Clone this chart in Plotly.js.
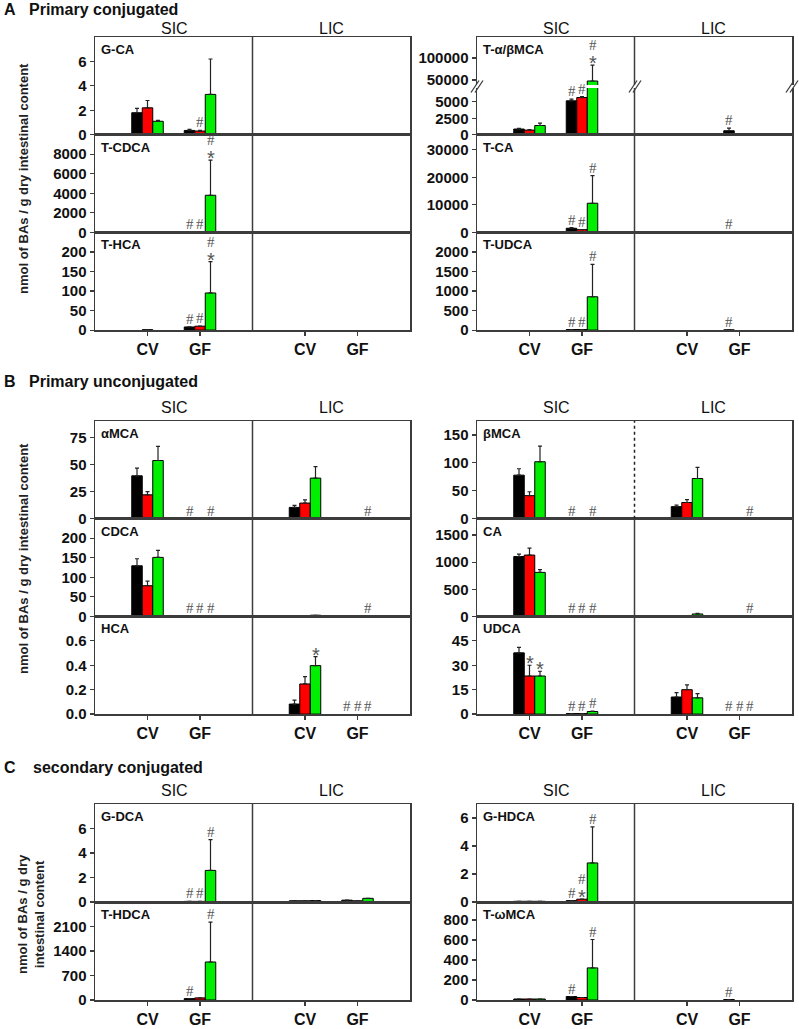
<!DOCTYPE html>
<html><head><meta charset="utf-8">
<script src="https://cdn.plot.ly/plotly-3.0.1.min.js"></script>
<style>html,body{margin:0;padding:0;background:#fff}</style>
</head><body><div id="chart" style="width:799px;height:1029px"></div>
<script>
// ---------------- DATA ----------------
// positions: [SIC CV, SIC GF, LIC CV, LIC GF]; series rows: [black, red, green]
const positions = ["SIC CV", "SIC GF", "LIC CV", "LIC GF"];
const xTickLabels = ["CV", "GF", "CV", "GF"];
const seriesNames = ["Group 1", "Group 2", "Group 3"];

// A - Primary conjugated
const GCA_mean = [[1.8, 0.35, null, null], [2.2, 0.3, null, null], [1.1, 3.3, null, null]];
const GCA_err  = [[0.35, 0.08, 0, 0], [0.6, 0.05, 0, 0], [0.08, 2.9, 0, 0]];
const GCA_sig  = [["", "", "", ""], ["", "#", "", ""], ["", "", "", ""]];
const GCA_ticks = ["0", "2", "4", "6"];

const TCDCA_mean = [[null, 50, null, null], [null, 50, null, null], [null, 3800, null, null]];
const TCDCA_err  = [[0, 0, 0, 0], [0, 0, 0, 0], [0, 3600, 0, 0]];
const TCDCA_sig  = [["", "#", "", ""], ["", "#", "", ""], ["", "*#", "", ""]];
const TCDCA_ticks = ["0", "2000", "4000", "6000", "8000"];

const THCA_mean = [[null, 8, null, null], [1, 10, null, null], [null, 95, null, null]];
const THCA_err  = [[0, 0, 0, 0], [0, 0, 0, 0], [0, 80, 0, 0]];
const THCA_sig  = [["", "#", "", ""], ["", "#", "", ""], ["", "*#", "", ""]];
const THCA_ticks = ["0", "50", "100", "150", "200"];

const TabMCA_mean = [[860, 5150, null, 600], [700, 5650, null, 100], [1400, 47700, null, 100]];
const TabMCA_err  = [[100, 250, 0, 400], [80, 150, 0, 0], [370, 36300, 0, 0]];
const TabMCA_sig  = [["", "#", "", "#"], ["", "#", "", ""], ["", "*#", "", ""]];
const TabMCA_ticksLow = ["0", "2500", "5000"];
const TabMCA_ticksHigh = ["50000", "100000"];

const TCA_mean = [[null, 1500, null, 50], [300, 1000, null, null], [150, 10600, null, null]];
const TCA_err  = [[0, 200, 0, 0], [0, 0, 0, 0], [0, 10000, 0, 0]];
const TCA_sig  = [["", "#", "", "#"], ["", "#", "", ""], ["", "#", "", ""]];
const TCA_ticks = ["0", "10000", "20000", "30000"];

const TUDCA_mean = [[null, 15, null, 5], [null, 15, null, null], [null, 853, null, null]];
const TUDCA_err  = [[0, 0, 0, 0], [0, 0, 0, 0], [0, 830, 0, 0]];
const TUDCA_sig  = [["", "#", "", "#"], ["", "#", "", ""], ["", "#", "", ""]];
const TUDCA_ticks = ["0", "500", "1000", "1500", "2000"];

// B - Primary unconjugated
const aMCA_mean = [[39.5, null, 10.4, null], [22, 0.5, 14.4, null], [53.6, null, 37.4, null]];
const aMCA_err  = [[7, 0, 1.8, 0], [3, 0, 3, 0], [13, 0, 10.6, 0]];
const aMCA_sig  = [["", "#", "", ""], ["", "", "", ""], ["", "#", "", "#"]];
const aMCA_ticks = ["0", "25", "50", "75"];

const CDCA_mean = [[129.5, null, 1, null], [78.5, null, 1, null], [151, null, 3, null]];
const CDCA_err  = [[18, 0, 0, 0], [12, 0, 0, 0], [18, 0, 0, 0]];
const CDCA_sig  = [["", "#", "", ""], ["", "#", "", ""], ["", "#", "", "#"]];
const CDCA_ticks = ["0", "50", "100", "150", "200"];

const HCA_mean = [[null, null, 0.082, null], [null, null, 0.247, null], [null, null, 0.397, null]];
const HCA_err  = [[0, 0, 0.033, 0], [0, 0, 0.06, 0], [0, 0, 0.073, 0]];
const HCA_sig  = [["", "", "", "#"], ["", "", "", "#"], ["", "", "*", "#"]];
const HCA_ticks = ["0.0", "0.2", "0.4", "0.6"];

const bMCA_mean = [[78, null, 21.6, null], [41.3, null, 29, null], [102, null, 72, null]];
const bMCA_err  = [[11.5, 0, 2.8, 0], [7, 0, 5, 0], [28, 0, 20, 0]];
const bMCA_sig  = [["", "#", "", ""], ["", "", "", ""], ["", "#", "", "#"]];
const bMCA_ticks = ["0", "50", "100", "150"];

const CA_mean = [[1104, null, 10, null], [1130, null, 10, null], [811, null, 45, null]];
const CA_err  = [[44, 0, 0, 0], [128, 0, 0, 0], [49, 0, 10, 0]];
const CA_sig  = [["", "#", "", ""], ["", "#", "", ""], ["", "#", "", "#"]];
const CA_ticks = ["0", "500", "1000", "1500"];

const UDCA_mean = [[37.6, 0.3, 10.5, null], [23.4, 0.3, 15, null], [23.4, 1.6, 10, null]];
const UDCA_err  = [[3.4, 0, 2.7, 0], [6.6, 0, 3, 0], [2.9, 0.3, 2.6, 0]];
const UDCA_sig  = [["", "#", "", "#"], ["*", "#", "", "#"], ["*", "#", "", "#"]];
const UDCA_ticks = ["0", "15", "30", "45"];

// C - secondary conjugated
const GDCA_mean = [[null, 0.05, 0.1, 0.15], [null, 0.05, 0.1, 0.1], [null, 2.58, 0.12, 0.3]];
const GDCA_err  = [[0, 0, 0, 0], [0, 0, 0, 0], [0, 2.52, 0, 0]];
const GDCA_sig  = [["", "#", "", ""], ["", "#", "", ""], ["", "#", "", ""]];
const GDCA_ticks = ["0", "2", "4", "6"];

const THDCA_mean = [[null, 40, null, null], [null, 60, null, null], [null, 1086, null, null]];
const THDCA_err  = [[0, 0, 0, 0], [0, 0, 0, 0], [0, 1140, 0, 0]];
const THDCA_sig  = [["", "#", "", ""], ["", "", "", ""], ["", "#", "", ""]];
const THDCA_ticks = ["0", "700", "1400", "2100"];

const GHDCA_mean = [[0.05, 0.1, null, null], [0.05, 0.2, null, null], [0.05, 2.79, null, null]];
const GHDCA_err  = [[0, 0, 0, 0], [0, 0, 0, 0], [0, 2.58, 0, 0]];
const GHDCA_sig  = [["", "#", "", ""], ["", "*#", "", ""], ["", "#", "", ""]];
const GHDCA_ticks = ["0", "2", "4", "6"];

const TwMCA_mean = [[10, 35, null, 5], [10, 25, null, null], [10, 321, null, null]];
const TwMCA_err  = [[0, 0, 0, 0], [0, 0, 0, 0], [0, 284, 0, 0]];
const TwMCA_sig  = [["", "#", "", "#"], ["", "", "", ""], ["", "#", "", ""]];
const TwMCA_ticks = ["0", "200", "400", "600", "800"];

// ---------------- LAYOUT ----------------
const W = 799, H = 1029;
const LC = "#3c3c3c", LW = 1.5;
const COLORS = ["#000000", "#ff0000", "#00ee00"];
const blocks = [{l: 95, d: 253, r: 410}, {l: 477, d: 635, r: 792}];
const sections = [
  {top: 37, rh: 97.7, letter: "A", title: "Primary conjugated", titleY: 9.5, titleX: 27, headY: 28, ylab: "nmol of BAs / g dry intestinal content", ylabX: 23, ylabY: 179},
  {top: 421, rh: 97.7, letter: "B", title: "Primary unconjugated", titleY: 381, titleX: 27, headY: 407, ylab: "nmol of BAs / g dry intestinal content", ylabX: 23, ylabY: 559},
  {top: 804, rh: 98, letter: "C", title: "secondary conjugated", titleY: 767, titleX: 31, headY: 790.5, ylab: "nmol of BAs / g dry<br>intestinal content", ylabX: 31, ylabY: 914}
];
const panels = [
  {sec: 0, col: 0, row: 0, label: "G-CA", mean: GCA_mean, err: GCA_err, sig: GCA_sig, ticks: GCA_ticks, max: 8},
  {sec: 0, col: 0, row: 1, label: "T-CDCA", mean: TCDCA_mean, err: TCDCA_err, sig: TCDCA_sig, ticks: TCDCA_ticks, max: 10000},
  {sec: 0, col: 0, row: 2, label: "T-HCA", mean: THCA_mean, err: THCA_err, sig: THCA_sig, ticks: THCA_ticks, max: 250, last: true},
  {sec: 0, col: 1, row: 0, label: "T-α/βMCA", mean: TabMCA_mean, err: TabMCA_err, sig: TabMCA_sig, broken: true,
    ticksLow: TabMCA_ticksLow, ticksHigh: TabMCA_ticksHigh, lowMax: 7100, highMin: 38600, highMax: 147700},
  {sec: 0, col: 1, row: 1, label: "T-CA", mean: TCA_mean, err: TCA_err, sig: TCA_sig, ticks: TCA_ticks, max: 35500},
  {sec: 0, col: 1, row: 2, label: "T-UDCA", mean: TUDCA_mean, err: TUDCA_err, sig: TUDCA_sig, ticks: TUDCA_ticks, max: 2500, last: true},
  {sec: 1, col: 0, row: 0, label: "αMCA", mean: aMCA_mean, err: aMCA_err, sig: aMCA_sig, ticks: aMCA_ticks, max: 90},
  {sec: 1, col: 0, row: 1, label: "CDCA", mean: CDCA_mean, err: CDCA_err, sig: CDCA_sig, ticks: CDCA_ticks, max: 250},
  {sec: 1, col: 0, row: 2, label: "HCA", mean: HCA_mean, err: HCA_err, sig: HCA_sig, ticks: HCA_ticks, max: 0.8, last: true},
  {sec: 1, col: 1, row: 0, label: "βMCA", mean: bMCA_mean, err: bMCA_err, sig: bMCA_sig, ticks: bMCA_ticks, max: 175, dotted: true},
  {sec: 1, col: 1, row: 1, label: "CA", mean: CA_mean, err: CA_err, sig: CA_sig, ticks: CA_ticks, max: 1800},
  {sec: 1, col: 1, row: 2, label: "UDCA", mean: UDCA_mean, err: UDCA_err, sig: UDCA_sig, ticks: UDCA_ticks, max: 60, last: true},
  {sec: 2, col: 0, row: 0, label: "G-DCA", mean: GDCA_mean, err: GDCA_err, sig: GDCA_sig, ticks: GDCA_ticks, max: 8},
  {sec: 2, col: 0, row: 1, label: "T-HDCA", mean: THDCA_mean, err: THDCA_err, sig: THDCA_sig, ticks: THDCA_ticks, max: 2800, last: true},
  {sec: 2, col: 1, row: 0, label: "G-HDCA", mean: GHDCA_mean, err: GHDCA_err, sig: GHDCA_sig, ticks: GHDCA_ticks, max: 7},
  {sec: 2, col: 1, row: 1, label: "T-ωMCA", mean: TwMCA_mean, err: TwMCA_err, sig: TwMCA_sig, ticks: TwMCA_ticks, max: 980, last: true}
];

const xpos = positions.map((p, i) => (i < 2 ? i + 1 : i + 2));
const px = p => p / W, py = p => 1 - p / H;
const FONT = '"Liberation Sans", Arial, sans-serif';

const data = [];
const layout = {
  width: W, height: H, margin: {l: 0, r: 0, t: 0, b: 0},
  barmode: "group", bargap: 0.4, bargroupgap: 0, showlegend: false,
  paper_bgcolor: "#ffffff", plot_bgcolor: "rgba(0,0,0,0)",
  font: {family: FONT, color: "#111"}, hovermode: false,
  shapes: [], annotations: []
};
let axN = 0;
const axName = n => (n === 1 ? "" : String(n));

function makeAxes(xdom, ydom, yrange, ticks, opt) {
  axN++;
  const s = axName(axN);
  layout["xaxis" + s] = {
    domain: xdom, range: [0, 6], anchor: "y" + s,
    showline: true, mirror: opt.xmirror !== false, linecolor: LC, linewidth: LW,
    side: opt.xside || "bottom",
    tickvals: xpos, ticktext: xTickLabels,
    showticklabels: !!opt.last, ticks: opt.last ? "outside" : "", ticklen: 4, tickwidth: 1.2, tickcolor: LC,
    ticklabelstandoff: 0,
    tickfont: {size: 16, weight: "bold", color: "#111", family: FONT},
    showgrid: false, zeroline: false, fixedrange: true
  };
  layout["yaxis" + s] = {
    domain: ydom, range: yrange, anchor: "x" + s,
    showline: true, mirror: true, linecolor: LC, linewidth: LW,
    ticks: "outside", ticklen: 4, tickwidth: 1.2, tickcolor: LC,
    tickvals: ticks.map(Number), ticktext: ticks,
    tickfont: {size: 15, weight: "bold", color: "#111", family: FONT},
    showgrid: false, zeroline: false, fixedrange: true
  };
  layout.shapes.push({type: "line", xref: "x" + s, yref: "y" + s + " domain", x0: 3, x1: 3, y0: 0, y1: 1,
    line: {color: opt.dotted ? "#222" : LC, width: LW, dash: opt.dotted ? "dot" : "solid"}});
  return s;
}

function addBars(s, p) {
  for (let k = 0; k < 3; k++) {
    data.push({
      type: "bar", x: xpos, y: p.mean[k], xaxis: "x" + s, yaxis: "y" + s, name: seriesNames[k],
      marker: {color: COLORS[k], line: {color: "#000", width: 1}},
      error_y: {type: "data", symmetric: false, array: p.err[k], arrayminus: p.err[k].map(() => 0),
        color: "#222", thickness: 1.2, width: 2, visible: true},
      hoverinfo: "skip"
    });
  }
}

function addSig(p, pickAxis) {
  for (let k = 0; k < 3; k++) {
    p.sig[k].forEach((str, i) => {
      if (!str) return;
      const m = p.mean[k][i];
      const base = (m == null ? 0 : m) + (p.err[k][i] || 0);
      const s = pickAxis(base);
      [...str].forEach((ch, j) => {
        const star = ch === "*";
        layout.annotations.push({
          xref: "x" + s, yref: "y" + s, x: xpos[i] + (k - 1) * 0.2, y: base,
          text: ch, showarrow: false, xanchor: "center", yanchor: "middle",
          yshift: 8 + 12 * j + (star ? -6 : 0),
          font: star ? {family: FONT, size: 20, color: "#555"} : {family: '"Liberation Serif", serif', size: 15, color: "#555"}
        });
      });
    });
  }
}

panels.forEach(p => {
  const sec = sections[p.sec], blk = blocks[p.col];
  const top = sec.top + p.row * sec.rh, bot = top + sec.rh;
  const xdom = [px(blk.l), px(blk.r)];
  if (p.broken) {
    const brkLow = top + 51, brkHigh = top + 48;
    const sLow = makeAxes(xdom, [py(bot), py(brkLow)], [0, p.lowMax], p.ticksLow, {xmirror: false});
    const sHigh = makeAxes(xdom, [py(brkHigh), py(top)], [p.highMin, p.highMax], p.ticksHigh, {xmirror: false, xside: "top"});
    addBars(sLow, p); addBars(sHigh, p);
    addSig(p, v => (v > p.lowMax ? sHigh : sLow));
    const yb = (brkLow + brkHigh) / 2;
    [blk.l, blk.d, blk.r].forEach(xx => {
      [-2, 2].forEach(off => {
        layout.shapes.push({type: "line", xref: "paper", yref: "paper",
          x0: px(xx + off - 4), y0: py(yb + 6), x1: px(xx + off + 4), y1: py(yb - 6),
          line: {color: LC, width: 1.3}});
      });
    });
  } else {
    const s = makeAxes(xdom, [py(bot), py(top)], [0, p.max], p.ticks, {last: p.last, dotted: p.dotted});
    addBars(s, p);
    addSig(p, () => s);
  }
  layout.annotations.push({xref: "paper", yref: "paper", x: px(blk.l + 4), y: py(top + 3),
    xanchor: "left", yanchor: "top", text: p.label, showarrow: false,
    font: {family: FONT, size: 13, weight: "bold", color: "#111"}});
});

sections.forEach(sec => {
  layout.annotations.push({xref: "paper", yref: "paper", x: px(2), y: py(sec.titleY), xanchor: "left", yanchor: "middle",
    text: sec.letter, showarrow: false, font: {family: FONT, size: 16, weight: "bold", color: "#111"}});
  layout.annotations.push({xref: "paper", yref: "paper", x: px(sec.titleX), y: py(sec.titleY), xanchor: "left", yanchor: "middle",
    text: sec.title, showarrow: false, font: {family: FONT, size: 16, weight: "bold", color: "#111"}});
  blocks.forEach(blk => {
    layout.annotations.push({xref: "paper", yref: "paper", x: px((blk.l + blk.d) / 2), y: py(sec.headY),
      xanchor: "center", yanchor: "middle", text: "SIC", showarrow: false, font: {family: FONT, size: 16, color: "#111"}});
    layout.annotations.push({xref: "paper", yref: "paper", x: px((blk.d + blk.r) / 2), y: py(sec.headY),
      xanchor: "center", yanchor: "middle", text: "LIC", showarrow: false, font: {family: FONT, size: 16, color: "#111"}});
  });
  layout.annotations.push({xref: "paper", yref: "paper", x: px(sec.ylabX), y: py(sec.ylabY), xanchor: "center", yanchor: "middle",
    textangle: -90, text: sec.ylab, showarrow: false, font: {family: FONT, size: 13, weight: "bold", color: "#222"}});
});

Plotly.newPlot("chart", data, layout, {staticPlot: true, displayModeBar: false});
</script>
</body></html>
